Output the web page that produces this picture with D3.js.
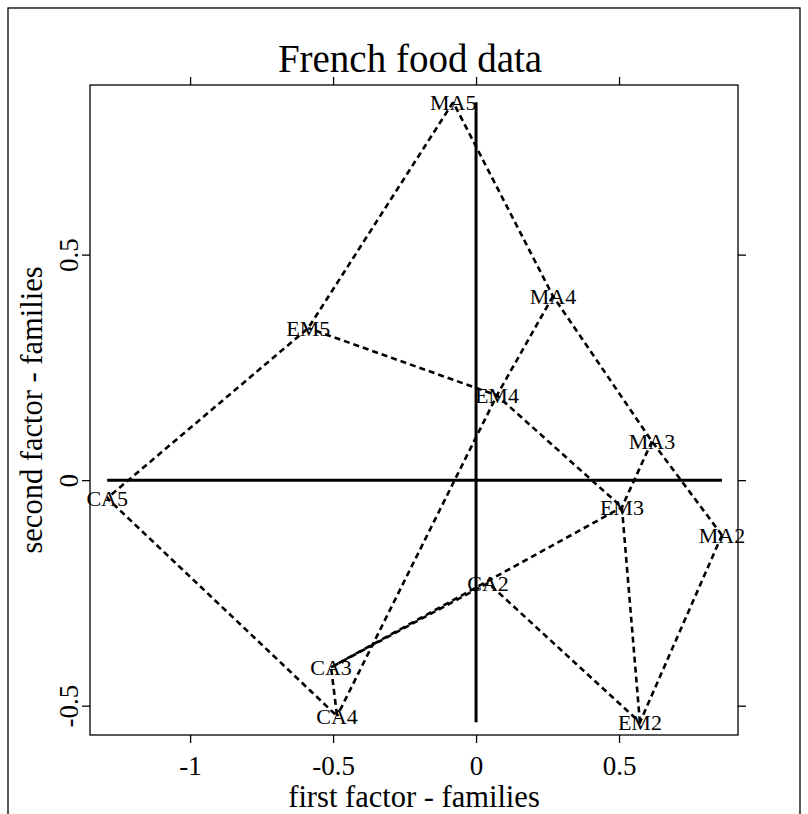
<!DOCTYPE html>
<html>
<head>
<meta charset="utf-8">
<script src="https://cdn.jsdelivr.net/npm/d3@7"></script>
<style>
  body { margin: 0; background: #fff; }
  svg { display: block; }
  text { font-family: "Liberation Serif", "Times New Roman", serif; fill: #000; }
</style>
</head>
<body>
<svg id="chart" width="808" height="814"></svg>
<script>
// ---- data ----
const families = ["MA2","EM2","CA2","MA3","EM3","CA3","MA4","EM4","CA4","MA5","EM5","CA5"];
const factor1 = [0.860, 0.573, 0.042, 0.615, 0.510, -0.507, 0.269, 0.073, -0.486, -0.080, -0.587, -1.290];
const factor2 = [-0.122, -0.537, -0.228, 0.086, -0.060, -0.415, 0.408, 0.188, -0.523, 0.838, 0.337, -0.040];
// connections: by type (2->3->4->5) and by size (MA->EM->CA)
const paths = [
  ["MA2","MA3","MA4","MA5"],
  ["EM2","EM3","EM4","EM5"],
  ["CA2","CA3","CA4","CA5"],
  ["MA2","EM2","CA2"],
  ["MA3","EM3","CA3"],
  ["MA4","EM4","CA4"],
  ["MA5","EM5","CA5"]
];
const xTicks = [-1, -0.5, 0, 0.5];
const yTicks = [-0.5, 0, 0.5];
const titleText = "French food data";
const xLabel = "first factor - families";
const yLabel = "second factor - families";

// ---- layout ----
const svg = d3.select("#chart");
const L = 90, R = 738, T = 85, B = 735;
const x = d3.scaleLinear().domain([-1.35, 0.916]).range([L, R]);
const y = d3.scaleLinear().domain([-0.565, 0.876]).range([B, T]);

const pts = families.map((f, i) => ({ name: f, x: factor1[i], y: factor2[i] }));
const byName = Object.fromEntries(pts.map(p => [p.name, p]));

// outer frame
svg.append("rect").attr("x", 8).attr("y", 8).attr("width", 792).attr("height", 830)
  .attr("fill", "none").attr("stroke", "#000").attr("stroke-width", 1.3);

// title
svg.append("text").attr("x", 410).attr("y", 72).attr("text-anchor", "middle")
  .attr("font-size", 39).text(titleText);

// plot box
svg.append("rect").attr("x", L).attr("y", T).attr("width", R - L).attr("height", B - T)
  .attr("fill", "none").attr("stroke", "#000").attr("stroke-width", 1.3);

// axes
const tickLen = 8;
const gB = svg.append("g").attr("transform", `translate(0,${B})`)
  .call(d3.axisBottom(x).tickValues(xTicks).tickSize(tickLen).tickPadding(8).tickFormat(d => String(d)));
const gT = svg.append("g").attr("transform", `translate(0,${T})`)
  .call(d3.axisTop(x).tickValues(xTicks).tickSize(tickLen).tickFormat(""));
const gL = svg.append("g").attr("transform", `translate(${L},0)`)
  .call(d3.axisLeft(y).tickValues(yTicks).tickSize(tickLen).tickPadding(8).tickFormat(d => String(d)));
const gR = svg.append("g").attr("transform", `translate(${R},0)`)
  .call(d3.axisRight(y).tickValues(yTicks).tickSize(tickLen).tickFormat(""));
[gB, gT, gL, gR].forEach(g => {
  g.select(".domain").remove();
  g.selectAll(".tick line").attr("stroke", "#000").attr("stroke-width", 1.3);
  g.selectAll("text").attr("font-family", "Liberation Serif, serif").attr("font-size", 27).attr("fill", "#000");
});
// rotate left tick labels
gL.selectAll(".tick text")
  .attr("text-anchor", "middle")
  .attr("x", null).attr("dy", null)
  .attr("transform", "translate(-12,0) rotate(-90)");
gB.selectAll(".tick text").attr("dy", "0.88em");

// axis titles
svg.append("text").attr("x", 414).attr("y", 807).attr("text-anchor", "middle")
  .attr("font-size", 30.5).text(xLabel);
svg.append("text").attr("transform", `translate(42,${(T + B) / 2}) rotate(-90)`)
  .attr("text-anchor", "middle").attr("font-size", 30.5).text(yLabel);

// zero axes spanning data range
const xmin = d3.min(factor1), xmax = d3.max(factor1);
const ymin = d3.min(factor2), ymax = d3.max(factor2);
svg.append("line").attr("x1", x(xmin)).attr("x2", x(xmax)).attr("y1", y(0)).attr("y2", y(0))
  .attr("stroke", "#000").attr("stroke-width", 3);
svg.append("line").attr("x1", x(0)).attr("x2", x(0)).attr("y1", y(ymin)).attr("y2", y(ymax))
  .attr("stroke", "#000").attr("stroke-width", 3);

// dashed connections
const line = d3.line().x(d => x(d.x)).y(d => y(d.y));
svg.append("g").selectAll("path").data(paths).join("path")
  .attr("d", p => line(p.map(n => byName[n])))
  .attr("fill", "none").attr("stroke", "#000").attr("stroke-width", 2.6)
  .attr("stroke-dasharray", "6,4");

// labels
svg.append("g").selectAll("text").data(pts).join("text")
  .attr("x", d => x(d.x)).attr("y", d => y(d.y))
  .attr("text-anchor", "middle").attr("dy", "0.35em")
  .attr("font-size", 22).text(d => d.name);
</script>
</body>
</html>
